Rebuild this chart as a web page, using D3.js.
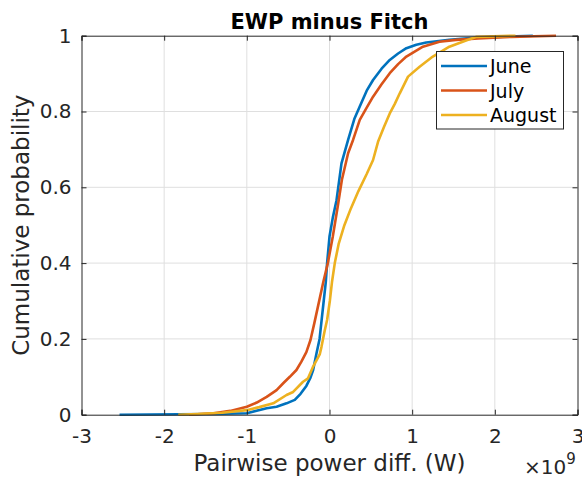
<!DOCTYPE html>
<html>
<head>
<meta charset="utf-8">
<script src="https://cdn.jsdelivr.net/npm/d3@7"></script>
<style>
  html, body { margin: 0; padding: 0; background: #fff; }
  svg { display: block; font-family: "DejaVu Sans", sans-serif; }
</style>
</head>
<body>
<svg id="chart" width="582" height="477"></svg>
<script>
// Empirical CDFs of pairwise power difference (x in units of 1e9 W)
const seriesNames = ["June", "July", "August"];
const seriesColors = ["#0072BD", "#D95319", "#EDB120"];

const juneX = [-2.54, -1.83, -1.4, -1.0, -0.76, -0.64, -0.52, -0.42, -0.35, -0.28, -0.23, -0.198, -0.157, -0.12, -0.095, -0.07, -0.045, -0.029, 0.0, 0.04, 0.085, 0.145, 0.225, 0.30, 0.366, 0.45, 0.527, 0.63, 0.729, 0.83, 0.93, 1.05, 1.17, 1.45, 1.7, 2.0, 2.46];
const juneY = [0, 0.001, 0.002, 0.004, 0.017, 0.021, 0.03, 0.039, 0.055, 0.076, 0.098, 0.118, 0.162, 0.2, 0.25, 0.3, 0.35, 0.4, 0.47, 0.52, 0.566, 0.663, 0.725, 0.78, 0.813, 0.855, 0.883, 0.913, 0.936, 0.953, 0.967, 0.976, 0.982, 0.989, 0.994, 0.997, 1.0];

const julyX = [-1.7, -1.4, -1.2, -1.0, -0.88, -0.76, -0.64, -0.56, -0.48, -0.40, -0.34, -0.28, -0.23, -0.18, -0.13, -0.075, -0.02, 0.04, 0.1, 0.15, 0.225, 0.285, 0.366, 0.45, 0.527, 0.63, 0.729, 0.83, 0.93, 1.13, 1.33, 1.53, 1.8, 2.2, 2.74];
const julyY = [0, 0.004, 0.01, 0.021, 0.032, 0.047, 0.065, 0.083, 0.10, 0.118, 0.14, 0.165, 0.197, 0.245, 0.295, 0.35, 0.4, 0.47, 0.55, 0.62, 0.69, 0.725, 0.778, 0.81, 0.839, 0.872, 0.901, 0.925, 0.945, 0.971, 0.984, 0.989, 0.993, 0.997, 1.0];

const augustX = [-1.83, -1.6, -1.3, -1.0, -0.85, -0.68, -0.52, -0.44, -0.32, -0.26, -0.198, -0.117, -0.097, -0.057, -0.029, 0.004, 0.03, 0.064, 0.11, 0.18, 0.26, 0.35, 0.45, 0.527, 0.587, 0.66, 0.729, 0.79, 0.85, 0.95, 1.09, 1.25, 1.45, 1.66, 1.78, 2.25];
const augustY = [0, 0.002, 0.005, 0.012, 0.02, 0.03, 0.052, 0.06, 0.087, 0.096, 0.127, 0.16, 0.179, 0.223, 0.25, 0.30, 0.35, 0.40, 0.45, 0.50, 0.545, 0.59, 0.635, 0.672, 0.72, 0.76, 0.795, 0.82, 0.848, 0.892, 0.918, 0.945, 0.971, 0.988, 0.997, 1.0];

const xTicks = [-3, -2, -1, 0, 1, 2, 3];
const xTickLabels = ["-3", "-2", "-1", "0", "1", "2", "3"];
const yTicks = [0, 0.2, 0.4, 0.6, 0.8, 1];
const yTickLabels = ["0", "0.2", "0.4", "0.6", "0.8", "1"];

const chartTitle = "EWP minus Fitch";
const xLabel = "Pairwise power diff. (W)";
const yLabel = "Cumulative probability";

const series = [
  { name: seriesNames[0], color: seriesColors[0], xs: juneX, ys: juneY },
  { name: seriesNames[1], color: seriesColors[1], xs: julyX, ys: julyY },
  { name: seriesNames[2], color: seriesColors[2], xs: augustX, ys: augustY }
];

const svg = d3.select("#chart");
const plot = { left: 81.5, right: 577.5, top: 35.7, bottom: 414.7 };
const axisColor = "#262626";

const x = d3.scaleLinear().domain([-3, 3]).range([plot.left, plot.right]);
const y = d3.scaleLinear().domain([0, 1]).range([plot.bottom, plot.top]);

// grid
const grid = svg.append("g").attr("stroke", "#dfdfdf").attr("stroke-width", 1);
grid.selectAll(".gx").data(xTicks.slice(1, -1)).join("line")
  .attr("x1", d => x(d)).attr("x2", d => x(d))
  .attr("y1", plot.top).attr("y2", plot.bottom);
grid.selectAll(".gy").data(yTicks.slice(1, -1)).join("line")
  .attr("y1", d => y(d)).attr("y2", d => y(d))
  .attr("x1", plot.left).attr("x2", plot.right);

// curves
const line = d3.line().x(d => x(d[0])).y(d => y(d[1]));
svg.append("g").selectAll("path").data(series).join("path")
  .attr("d", s => line(s.xs.map((v, i) => [v, s.ys[i]])))
  .attr("fill", "none")
  .attr("stroke", s => s.color)
  .attr("stroke-width", 2.6)
  .attr("stroke-linejoin", "round");

// axes (ticks drawn inward, box on all sides)
const tickLen = 5;
const bottomAxis = d3.axisBottom(x).tickValues(xTicks).tickSize(-tickLen).tickPadding(tickLen + 9).tickFormat((d, i) => xTickLabels[i]);
const leftAxis = d3.axisLeft(y).tickValues(yTicks).tickSize(-tickLen).tickPadding(tickLen + 5).tickFormat((d, i) => yTickLabels[i]);
const topAxis = d3.axisTop(x).tickValues(xTicks).tickSize(-tickLen).tickFormat("");
const rightAxis = d3.axisRight(y).tickValues(yTicks).tickSize(-tickLen).tickFormat("");

function styleAxis(g) {
  g.select(".domain").attr("stroke", axisColor).attr("stroke-width", 1);
  g.selectAll(".tick line").attr("stroke", axisColor);
  g.selectAll(".tick text").attr("fill", axisColor).attr("font-size", 20).attr("font-family", "DejaVu Sans");
}

svg.append("g").attr("transform", `translate(0,${plot.bottom})`).call(bottomAxis).call(styleAxis);
svg.append("g").attr("transform", `translate(${plot.left},0)`).call(leftAxis).call(styleAxis);
svg.append("g").attr("transform", `translate(0,${plot.top})`).call(topAxis).call(styleAxis);
svg.append("g").attr("transform", `translate(${plot.right},0)`).call(rightAxis).call(styleAxis);

// exponent label
const expo = svg.append("text").attr("x", 524).attr("y", 474).attr("fill", axisColor)
  .attr("font-size", 20);
expo.append("tspan").text("×10");
expo.append("tspan").attr("dy", -10).attr("font-size", 15).text("9");

// axis labels and title
svg.append("text").attr("x", (plot.left + plot.right) / 2).attr("y", 471)
  .attr("text-anchor", "middle").attr("font-size", 23).attr("fill", axisColor).text(xLabel);
svg.append("text").attr("transform", `translate(29,${(plot.top + plot.bottom) / 2}) rotate(-90)`)
  .attr("text-anchor", "middle").attr("font-size", 23).attr("fill", axisColor).text(yLabel);
svg.append("text").attr("x", (plot.left + plot.right) / 2).attr("y", 29)
  .attr("text-anchor", "middle").attr("font-size", 21).attr("font-weight", "bold").attr("fill", "#000").text(chartTitle);

// legend
const legend = svg.append("g");
legend.append("rect").attr("x", 436.5).attr("y", 51.5).attr("width", 127).attr("height", 77.5)
  .attr("fill", "#fff").attr("stroke", axisColor).attr("stroke-width", 1);
const rowY = [66, 90.5, 115];
series.forEach((s, i) => {
  legend.append("line").attr("x1", 441).attr("x2", 487).attr("y1", rowY[i]).attr("y2", rowY[i])
    .attr("stroke", s.color).attr("stroke-width", 2.6);
  legend.append("text").attr("x", 490).attr("y", rowY[i] + 7).attr("font-size", 19)
    .attr("fill", "#000").text(s.name);
});
</script>
</body>
</html>
